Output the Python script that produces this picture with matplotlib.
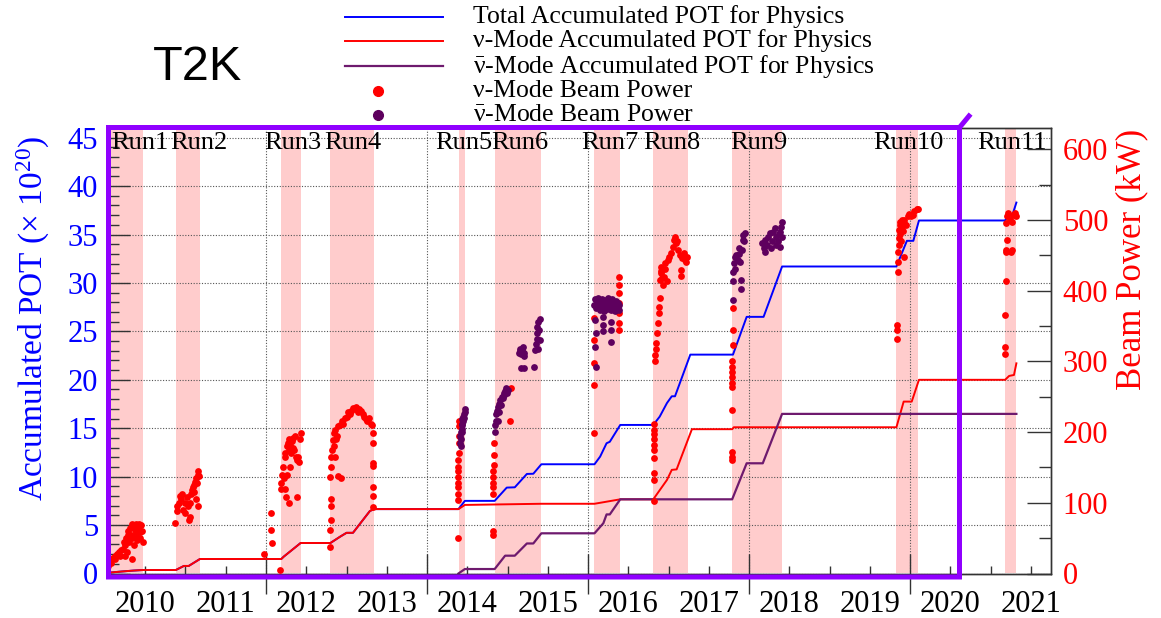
import matplotlib
matplotlib.use("Agg")
import matplotlib.pyplot as plt
from matplotlib.lines import Line2D
from matplotlib.ticker import MultipleLocator, FixedLocator

plt.rcParams["font.family"] = ["Liberation Serif", "DejaVu Serif"]
# upright serif math so that the greek nu matches the body text
plt.rcParams["mathtext.fontset"] = "custom"
plt.rcParams["mathtext.rm"] = "Liberation Serif"
plt.rcParams["mathtext.it"] = "Liberation Serif"
plt.rcParams["mathtext.bf"] = "Liberation Serif:bold"

# data-taking periods (decimal year)
run_names = ["Run1", "Run2", "Run3", "Run4", "Run5", "Run6",
             "Run7", "Run8", "Run9", "Run10", "Run11"]
run_start = [2010.00, 2010.88, 2012.19, 2012.80, 2014.40, 2014.84,
             2016.08, 2016.81, 2017.79, 2019.83, 2021.18]
run_end = [2010.47, 2011.18, 2012.43, 2013.34, 2014.47, 2015.41,
           2016.40, 2017.24, 2018.41, 2020.10, 2021.32]
run_label_x = [2010.08, 2010.81, 2011.98, 2012.72, 2014.10, 2014.80,
               2015.91, 2016.68, 2017.77, 2019.54, 2020.83]

years = list(range(2010, 2022))
year_labels = [str(y) for y in years]

# accumulated POT (x 10^20)
total_t = [2010.02, 2010.04, 2010.20, 2010.35, 2010.47, 2010.88, 2010.98, 2011.04,
           2011.18, 2012.19, 2012.22, 2012.43, 2012.80, 2012.92, 2013.00, 2013.08,
           2013.29, 2013.34, 2014.39, 2014.47, 2014.84, 2014.99, 2015.09, 2015.24,
           2015.32, 2015.42, 2016.08, 2016.15, 2016.23, 2016.27, 2016.40, 2016.81,
           2016.89, 2016.98, 2017.04, 2017.08, 2017.27, 2017.80, 2017.97, 2018.18,
           2018.41, 2019.83, 2019.96, 2020.04, 2020.11, 2021.18, 2021.22, 2021.27,
           2021.32]
total_pot = [0.00, 0.08, 0.20, 0.30, 0.36, 0.36, 0.78, 0.78,
             1.50, 1.50, 1.74, 3.15, 3.15, 3.80, 4.20, 4.20,
             6.45, 6.65, 6.65, 7.50, 7.50, 8.87, 8.90, 10.28,
             10.30, 11.28, 11.28, 12.07, 13.45, 13.60, 15.34, 15.34,
             16.20, 17.60, 18.30, 18.30, 22.60, 22.60, 26.50, 26.50,
             31.70, 31.70, 34.35, 34.35, 36.45, 36.45, 37.00, 37.00,
             38.30]

nu_t = [2010.02, 2010.04, 2010.20, 2010.35, 2010.47, 2010.88, 2010.98, 2011.04,
        2011.18, 2012.19, 2012.22, 2012.43, 2012.80, 2012.92, 2013.00, 2013.08,
        2013.29, 2013.34, 2014.39, 2014.47, 2015.42, 2016.08, 2016.40, 2016.81,
        2016.98, 2017.04, 2017.10, 2017.29, 2017.79, 2017.81, 2019.83, 2019.92,
        2020.02, 2020.11, 2021.18, 2021.23, 2021.29, 2021.32]
nu_pot = [0.00, 0.08, 0.20, 0.30, 0.36, 0.36, 0.78, 0.78,
          1.50, 1.50, 1.74, 3.15, 3.15, 3.80, 4.20, 4.20,
          6.45, 6.65, 6.65, 7.08, 7.20, 7.20, 7.66, 7.66,
          9.66, 10.70, 10.75, 14.90, 14.90, 15.10, 15.10, 17.75,
          17.75, 20.00, 20.00, 20.40, 20.50, 21.70]

nubar_t = [2014.39, 2014.47, 2014.84, 2014.97, 2015.09, 2015.24, 2015.32, 2015.42,
           2016.08, 2016.19, 2016.23, 2016.27, 2016.40, 2017.79, 2017.97, 2018.17,
           2018.41, 2021.32]
nubar_pot = [0.00, 0.46, 0.46, 1.84, 1.84, 3.10, 3.10, 4.15,
             4.15, 5.19, 6.10, 6.10, 7.66, 7.66, 11.38, 11.38,
             16.48, 16.48]

# beam power (kW), neutrino mode
nu_bp_t = [
    # Run1
    2010.04, 2010.05, 2010.07, 2010.08, 2010.10, 2010.12, 2010.13, 2010.15, 2010.17,
    2010.19, 2010.20, 2010.22, 2010.23, 2010.25, 2010.26, 2010.27, 2010.28, 2010.29,
    2010.30, 2010.31, 2010.32, 2010.33, 2010.34, 2010.35, 2010.36, 2010.37, 2010.38,
    2010.39, 2010.40, 2010.41, 2010.42, 2010.43, 2010.44, 2010.45, 2010.46, 2010.47,
    2010.33, 2010.25,
    # Run2
    2010.87, 2010.89, 2010.90, 2010.92, 2010.93, 2010.94, 2010.96, 2010.97, 2010.99,
    2011.00, 2011.02, 2011.03, 2011.04, 2011.05, 2011.06, 2011.07, 2011.08, 2011.09,
    2011.10, 2011.11, 2011.12, 2011.13, 2011.14, 2011.15, 2011.16, 2011.17, 2011.15,
    2011.13,
    # Run3
    2011.98, 2012.06, 2012.06, 2012.07, 2012.17, 2012.18, 2012.19, 2012.20, 2012.21,
    2012.22, 2012.23, 2012.24, 2012.24, 2012.25, 2012.26, 2012.27, 2012.28, 2012.28,
    2012.29, 2012.30, 2012.31, 2012.32, 2012.33, 2012.34, 2012.35, 2012.36, 2012.37,
    2012.38, 2012.39, 2012.40, 2012.41, 2012.42, 2012.43, 2012.30, 2012.26,
    # Run4
    2012.80, 2012.80, 2012.81, 2012.81, 2012.81, 2012.80, 2012.81, 2012.81, 2012.82,
    2012.83, 2012.84, 2012.85, 2012.86, 2012.86, 2012.87, 2012.88, 2012.89, 2012.90,
    2012.92, 2012.93, 2012.94, 2012.96, 2012.98, 2013.00, 2013.02, 2013.04, 2013.06,
    2013.08, 2013.10, 2013.12, 2013.14, 2013.16, 2013.18, 2013.20, 2013.22, 2013.24,
    2013.26, 2013.28, 2013.30, 2013.32, 2013.33, 2013.33, 2013.33, 2013.33, 2013.33,
    2013.33, 2013.33,
    # Run5
    2014.39, 2014.39, 2014.39, 2014.39, 2014.39, 2014.39, 2014.39, 2014.39, 2014.39,
    2014.40, 2014.40, 2014.40, 2014.40, 2014.40,
    # Run6
    2014.82, 2014.82, 2014.82, 2014.82, 2014.82, 2014.82, 2014.82, 2014.83, 2014.83,
    2014.83, 2015.03, 2015.04,
    # Run7
    2016.08, 2016.08, 2016.08, 2016.08, 2016.08, 2016.38, 2016.39, 2016.38, 2016.39,
    2016.38, 2016.39, 2016.38,
    # Run8
    2016.82, 2016.82, 2016.82, 2016.82, 2016.82, 2016.82, 2016.82, 2016.82, 2016.82,
    2016.82, 2016.83, 2016.83, 2016.84, 2016.85, 2016.86, 2016.87, 2016.88, 2016.88,
    2016.89, 2016.89, 2016.90, 2016.90, 2016.91, 2016.92, 2016.93, 2016.94, 2016.95,
    2016.96, 2016.98, 2016.99, 2017.01, 2017.03, 2017.05, 2017.07, 2017.08, 2017.09,
    2017.10, 2017.12, 2017.14, 2017.15, 2017.15, 2017.17, 2017.19, 2017.21, 2017.22,
    2017.23,
    # Run9
    2017.79, 2017.79, 2017.79, 2017.79, 2017.79, 2017.79, 2017.79, 2017.79, 2017.79,
    2017.79, 2017.80, 2017.80, 2017.80,
    # Run10
    2019.84, 2019.84, 2019.84, 2019.85, 2019.85, 2019.85, 2019.86, 2019.86, 2019.86,
    2019.87, 2019.88, 2019.88, 2019.89, 2019.90, 2019.90, 2019.91, 2019.92, 2019.93,
    2019.93, 2019.95, 2019.97, 2019.99, 2020.01, 2020.04, 2020.05, 2020.08, 2020.10,
    # Run11
    2021.18, 2021.18, 2021.18, 2021.19, 2021.19, 2021.19, 2021.20, 2021.19, 2021.20,
    2021.22, 2021.24, 2021.25, 2021.26, 2021.27, 2021.28, 2021.30, 2021.31,
]
nu_bp_kw = [
    # Run1
    10, 18, 20, 15, 22, 25, 20, 28, 30,
    25, 33, 35, 45, 40, 50, 30, 55, 60,
    45, 65, 55, 70, 50, 68, 40, 62, 70,
    55, 48, 65, 70, 58, 50, 68, 60, 45,
    20, 25,
    # Run2
    72, 88, 95, 100, 110, 105, 112, 90, 85,
    100, 108, 95, 76, 80, 100, 112, 118, 122,
    115, 125, 130, 135, 128, 140, 145, 138, 95,
    105,
    # Run3
    28, 62, 86, 43, 5, 120, 128, 140, 150,
    135, 165, 170, 120, 108, 180, 185, 175, 100,
    190, 182, 170, 188, 178, 192, 175, 195, 165,
    160, 108, 165, 158, 190, 198, 150, 140,
    # Run4
    38, 62, 76, 95, 106, 137, 151, 165, 175,
    189, 198, 180, 203, 165, 190, 195, 138, 208,
    210, 135, 215, 212, 220, 222, 228, 225, 230,
    234, 232, 235, 228, 233, 230, 226, 222, 218,
    215, 220, 212, 210, 199, 185, 156, 152, 123,
    109, 94,
    # Run5
    50, 104, 113, 122, 128, 137, 145, 151, 160,
    170, 184, 194, 208, 215,
    # Run6
    54, 60, 113, 122, 128, 137, 145, 153, 168,
    184, 215, 262,
    # Run7
    199, 266, 297, 330, 361, 420, 408, 396, 382,
    368, 354, 344,
    # Run8
    102, 132, 142, 163, 175, 182, 190, 197, 203,
    212, 300, 309, 318, 326, 340, 354, 368, 377,
    390, 415, 425, 434, 428, 418, 408, 420, 430,
    439, 413, 443, 447, 453, 462, 472, 476, 467,
    470, 458, 450, 421, 429, 446, 453, 443, 440,
    448,
    # Run9
    160, 165, 172, 231, 264, 270, 278, 285, 292,
    300, 323, 344, 375,
    # Run10
    332, 345, 352, 426, 440, 455, 465, 475, 486,
    493, 480, 497, 470, 490, 500, 485, 495, 500,
    448, 493, 505, 508, 505, 507, 512, 516, 516,
    # Run11
    311, 321, 366, 413, 455, 458, 472, 495, 505,
    510, 500, 455, 458, 497, 507, 510, 505,
]

# beam power (kW), antineutrino mode
nubar_bp_t = [
    # Run5
    2014.41, 2014.41, 2014.42, 2014.42, 2014.43, 2014.43, 2014.44, 2014.44, 2014.45,
    2014.45, 2014.46, 2014.46, 2014.47, 2014.47, 2014.42, 2014.44,
    # Run6
    2014.84, 2014.85, 2014.86, 2014.86, 2014.87, 2014.88, 2014.89, 2014.90, 2014.91,
    2014.92, 2014.93, 2014.94, 2014.95, 2014.96, 2014.97, 2014.98, 2014.99, 2015.00,
    2014.88, 2015.14, 2015.15, 2015.16, 2015.17, 2015.18, 2015.19, 2015.20, 2015.21,
    2015.17, 2015.20, 2015.33, 2015.34, 2015.35, 2015.36, 2015.37, 2015.37, 2015.38,
    2015.39, 2015.40, 2015.40, 2015.38,
    # Run7
    2016.08, 2016.09, 2016.10, 2016.11, 2016.12, 2016.13, 2016.14, 2016.15, 2016.16,
    2016.17, 2016.18, 2016.19, 2016.20, 2016.21, 2016.22, 2016.23, 2016.24, 2016.25,
    2016.26, 2016.27, 2016.28, 2016.29, 2016.30, 2016.31, 2016.32, 2016.33, 2016.34,
    2016.35, 2016.36, 2016.37, 2016.38, 2016.39, 2016.09, 2016.10, 2016.09, 2016.10,
    2016.18, 2016.18, 2016.19, 2016.29, 2016.28, 2016.28,
    # Run9
    2017.80, 2017.80, 2017.81, 2017.82, 2017.84, 2017.86, 2017.88, 2017.89, 2017.91,
    2017.92, 2017.93, 2017.95, 2017.90, 2017.90, 2017.80, 2017.83, 2017.87, 2017.94,
    2018.16, 2018.18, 2018.20, 2018.22, 2018.24, 2018.26, 2018.28, 2018.30, 2018.32,
    2018.34, 2018.36, 2018.38, 2018.40, 2018.41, 2018.41, 2018.39, 2018.20, 2018.27,
    2018.33, 2018.37,
]
nubar_bp_kw = [
    # Run5
    185, 195, 200, 190, 205, 212, 210, 218, 215,
    222, 220, 226, 228, 232, 180, 200,
    # Run6
    200, 210, 215, 225, 230, 235, 228, 240, 245,
    238, 250, 248, 255, 252, 258, 262, 255, 260,
    215, 312, 318, 315, 310, 316, 320, 312, 308,
    290, 290, 292, 316, 325, 340, 348, 332, 355,
    345, 360, 330, 318,
    # Run7
    380, 388, 375, 385, 390, 378, 386, 372, 383,
    388, 376, 384, 371, 380, 387, 374, 382, 389,
    377, 385, 373, 381, 388, 376, 384, 371, 380,
    386, 375, 383, 372, 379, 358, 340, 321, 292,
    363, 351, 343, 356, 345, 328,
    # Run9
    427, 413, 439, 447, 450, 443, 452, 440, 458,
    472, 479, 481, 415, 402, 387, 430, 460, 470,
    467, 460, 472, 465, 476, 481, 470, 483, 488,
    476, 470, 483, 490, 497, 476, 462, 455, 460,
    465, 480,
]

legend_labels = [
    "Total Accumulated POT for Physics",
    "\u03bd-Mode Accumulated POT for Physics",
    "$\\bar{\\nu}$-Mode Accumulated POT for Physics",
    "\u03bd-Mode Beam Power",
    "$\\bar{\\nu}$-Mode Beam Power",
]

blue = "#0000ff"
red = "#ff0000"
purple_line = "#6e1a6e"
purple_dot = "#5e005e"
tick_c = "#333333"

W, H = 1161, 618
fig = plt.figure(figsize=(W / 100, H / 100), dpi=100)
ax = fig.add_axes([107 / W, 1 - 573.5 / H, 944 / W, 445.5 / H])
ax2 = ax.twinx()

# run bands
for s, e in zip(run_start, run_end):
    ax.axvspan(s, e, color="#ffcccc", lw=0, zorder=0)
for name, x in zip(run_names, run_label_x):
    ax.text(x, 44.4, name, fontsize=19, ha="left", va="center", zorder=4)

ax.plot(total_t, total_pot, color=blue, lw=1.4, zorder=2)
ax.plot(nu_t, nu_pot, color=red, lw=1.4, zorder=2)
ax.plot(nubar_t, nubar_pot, color=purple_line, lw=1.6, zorder=2)

ax2.scatter(nu_bp_t, nu_bp_kw, s=24, color=red, lw=0, zorder=3)
ax2.scatter(nubar_bp_t, nubar_bp_kw, s=24, color=purple_dot, lw=0, zorder=3)

ax.set_xlim(2010.025, 2021.75)
ax.set_ylim(0, 46)
ax2.set_ylim(0, 630)

# x axis: long ticks on even years, short every half year, year labels mid-year
ax.xaxis.set_major_locator(FixedLocator([2012, 2014, 2016, 2018, 2020]))
ax.xaxis.set_minor_locator(MultipleLocator(0.5))
ax.tick_params(axis="x", which="major", direction="inout", length=29, width=1,
               color=tick_c, labelbottom=False, top=False)
ax.tick_params(axis="x", which="minor", direction="in", length=6, width=1,
               color=tick_c, top=False)
sec = ax.secondary_xaxis("bottom")
sec.set_xticks([y + 0.5 for y in years], year_labels)
sec.tick_params(length=0, labelsize=22, pad=12)
sec.spines["bottom"].set_visible(False)

ax.yaxis.set_major_locator(MultipleLocator(5))
ax.yaxis.set_minor_locator(MultipleLocator(1))
ax.tick_params(axis="y", which="major", direction="in", length=16.5, width=1,
               color=tick_c, labelcolor=blue, labelsize=22, pad=6.5)
ax.tick_params(axis="y", which="minor", direction="in", length=8.5, width=1,
               color=tick_c)

ax2.yaxis.set_major_locator(MultipleLocator(100))
ax2.yaxis.set_minor_locator(MultipleLocator(50))
ax2.tick_params(axis="y", which="major", direction="in", length=17, width=1,
                color=tick_c, labelcolor=red, labelsize=22, pad=8.5)
ax2.tick_params(axis="y", which="minor", direction="in", length=8.6, width=1,
                color=tick_c)

grid_kw = dict(color="#555555", lw=0.8, ls=(0, (1, 1.5)))
ax.set_axisbelow(True)
ax.grid(True, axis="x", which="major", **grid_kw)
ax.grid(True, axis="y", which="major", **grid_kw)

for a in (ax, ax2):
    for sp in a.spines.values():
        sp.set_color(tick_c)
        sp.set_linewidth(1)

fig.text(33 / W, 1 - 318.5 / H, "Accumulated POT (\u00d7 10$^{20}$)",
         rotation=90, color=blue, fontsize=24, ha="center", va="center")
fig.text(1132 / W, 1 - 259 / H, "Beam Power (kW)",
         rotation=90, color=red, fontsize=25, ha="center", va="center")

fig.text(197 / W, 1 - 67.5 / H, "T2K", family="Liberation Sans", fontsize=35,
         ha="center", va="center")

# legend
leg_y = [16.5, 41, 66, 91, 115]
for y, c, w in zip(leg_y[:3], [blue, red, purple_line], [1.4, 1.4, 1.6]):
    fig.add_artist(Line2D([345 / W, 443 / W], [1 - y / H] * 2, color=c, lw=w))
for y, c in zip(leg_y[3:], [red, purple_dot]):
    fig.add_artist(Line2D([378 / W], [1 - y / H], marker="o", ms=7, color=c, lw=0))
for y, lab in zip(leg_y, legend_labels):
    fig.text(473 / W, 1 - y / H, lab, fontsize=18.5, ha="left", va="center")

# highlight box around 2010-2020
bx = [969, 959.5, 959.5, 108.5, 108.5, 959.5]
by = [116, 127.5, 577, 577, 127.5, 127.5]
fig.add_artist(Line2D([x / W for x in bx], [1 - y / H for y in by],
                      color="#9000ff", lw=3.6, solid_joinstyle="miter"))

fig.savefig("out.png", dpi=100)
